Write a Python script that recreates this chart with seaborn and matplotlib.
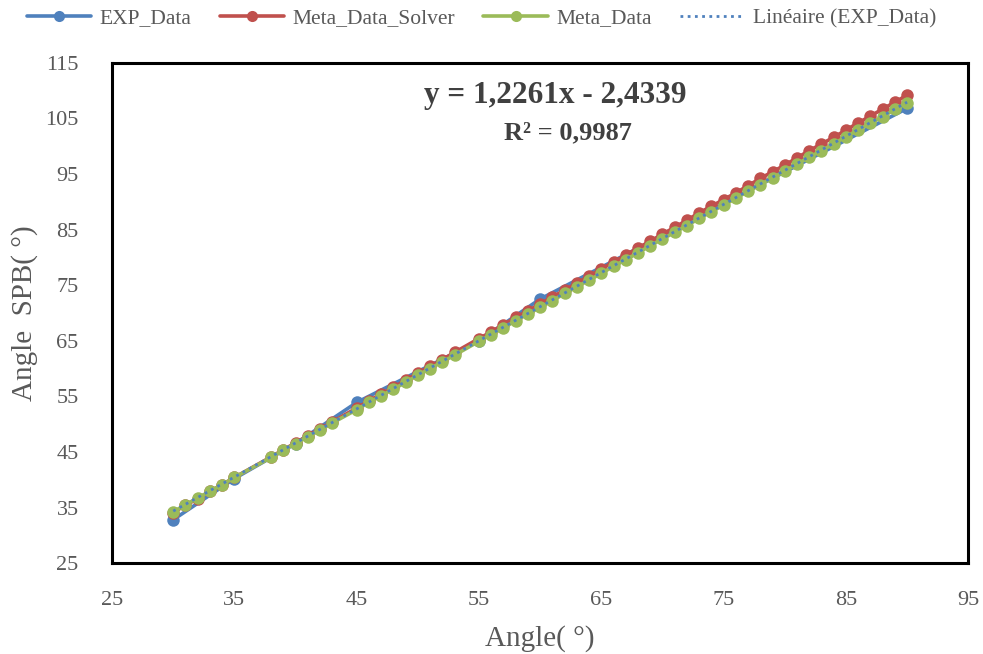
import matplotlib
matplotlib.use("Agg")
import matplotlib.pyplot as plt
from matplotlib.lines import Line2D
import numpy as np
import pandas as pd
import seaborn as sns

# Measured angles (experiment)
exp_x = [30, 35, 40, 45, 55, 60, 90]
exp_y = [32.8, 40.2, 46.5, 53.9, 65.0, 72.5, 106.8]

# Model angles on the 1-degree grid
meta_x = [30, 31, 32, 33, 34, 35, 38, 39, 40, 41, 42, 43, 45, 46, 47, 48, 49, 50,
          51, 52, 53, 55, 56, 57, 58, 59, 60, 61, 62, 63, 64, 65, 66, 67, 68, 69,
          70, 71, 72, 73, 74, 75, 76, 77, 78, 79, 80, 81, 82, 83, 84, 85, 86, 87,
          88, 89, 90]
meta_solver_y = [34.1, 35.4, 36.6, 37.9, 39.1, 40.4, 44.1, 45.4, 46.6, 47.9, 49.1,
                 50.4, 52.9, 54.2, 55.4, 56.6, 57.9, 59.2, 60.4, 61.6, 62.9, 65.4,
                 66.6, 67.9, 69.2, 70.4, 71.6, 72.9, 74.1, 75.4, 76.6, 77.9, 79.2,
                 80.4, 81.7, 82.9, 84.2, 85.4, 86.7, 88.0, 89.2, 90.4, 91.6, 92.9,
                 94.2, 95.4, 96.6, 97.9, 99.2, 100.4, 101.6, 102.9, 104.2, 105.4,
                 106.7, 107.9, 109.2]
meta_y = [34.2, 35.5, 36.7, 37.9, 39.1, 40.4, 44.0, 45.3, 46.5, 47.7, 48.9, 50.2,
          52.6, 53.9, 55.1, 56.3, 57.5, 58.8, 60.0, 61.2, 62.4, 64.9, 66.1, 67.3,
          68.6, 69.8, 71.0, 72.2, 73.5, 74.7, 75.9, 77.1, 78.4, 79.6, 80.8, 82.1,
          83.3, 84.5, 85.7, 87.0, 88.2, 89.4, 90.6, 91.9, 93.1, 94.3, 95.5, 96.8,
          98.0, 99.2, 100.4, 101.7, 102.9, 104.1, 105.3, 106.6, 107.8]

# Linear trend of the experimental data
trend_slope = 1.2261
trend_intercept = -2.4339
trend_r2 = 0.9987

x_ticks = [25, 35, 45, 55, 65, 75, 85, 95]
y_ticks = [25, 35, 45, 55, 65, 75, 85, 95, 105, 115]

series_labels = ["EXP_Data", "Meta_Data_Solver", "Meta_Data", "Linéaire (EXP_Data)"]

BLUE = "#4F81BD"
RED = "#C0504D"
GREEN = "#9BBB59"
GREY = "#595959"

sns.set_theme(style="white")
plt.rcParams["font.family"] = ["Liberation Serif", "DejaVu Serif"]

fig = plt.figure(figsize=(9.83, 6.54), dpi=100)
ax = fig.add_axes([0.114, 0.139, 0.871, 0.765])

exp_df = pd.DataFrame({"x": exp_x, "y": exp_y})
meta_df = pd.DataFrame({"x": meta_x, "solver": meta_solver_y, "meta": meta_y})

line_kw = dict(marker="o", markersize=9, markeredgewidth=0, linewidth=2.6, sort=False)
sns.lineplot(data=exp_df, x="x", y="y", color=BLUE, ax=ax, **line_kw)
sns.lineplot(data=meta_df, x="x", y="solver", color=RED, ax=ax, **line_kw)
sns.lineplot(data=meta_df, x="x", y="meta", color=GREEN, ax=ax, **line_kw)

trend_x = np.array([min(exp_x), max(exp_x)], dtype=float)
trend_df = pd.DataFrame({"x": trend_x, "y": trend_slope * trend_x + trend_intercept})
sns.lineplot(data=trend_df, x="x", y="y", color=BLUE, linestyle=(0, (1, 1.6)),
             linewidth=2.0, ax=ax)

ax.set_xlim(25, 95)
ax.set_ylim(25, 115)
ax.set_xticks(x_ticks)
ax.set_yticks(y_ticks)
ax.tick_params(axis="both", which="both", length=0, labelsize=16, labelcolor=GREY)
ax.tick_params(axis="x", pad=20)
ax.tick_params(axis="y", pad=24)
for spine in ax.spines.values():
    spine.set_visible(True)
    spine.set_color("black")
    spine.set_linewidth(2.2)
ax.grid(False)

ax.set_xlabel("Angle( °)", fontsize=21, color=GREY, labelpad=11)
ax.set_ylabel("Angle  SPB( °)", fontsize=21, color=GREY, labelpad=5)

sign = "-" if trend_intercept < 0 else "+"
eq_text = f"y = {trend_slope:.4f}x {sign} {abs(trend_intercept):.4f}".replace(".", ",")
r2_text = f"R² = {trend_r2:.4f}".replace(".", ",")
ax.text(0.518, 0.935, eq_text, transform=ax.transAxes, ha="center", va="center",
        fontsize=22.5, fontweight="bold", color="#404040")
ax.text(0.532, 0.86, r2_text, transform=ax.transAxes, ha="center", va="center",
        fontsize=19, fontweight="bold", color="#404040")

handles = [
    Line2D([], [], color=BLUE, marker="o", markersize=8, markeredgewidth=0, linewidth=2.6),
    Line2D([], [], color=RED, marker="o", markersize=8, markeredgewidth=0, linewidth=2.6),
    Line2D([], [], color=GREEN, marker="o", markersize=8, markeredgewidth=0, linewidth=2.6),
    Line2D([], [], color=BLUE, linestyle=(0, (1, 1.6)), linewidth=2.0),
]
fig.legend(handles, series_labels, loc="center", bbox_to_anchor=(0.49, 0.972),
           ncol=4, frameon=False, fontsize=15.5, handlelength=3.0, columnspacing=1.3,
           handletextpad=0.4, labelcolor=GREY)

fig.savefig("out.png", dpi=100, facecolor="white")
